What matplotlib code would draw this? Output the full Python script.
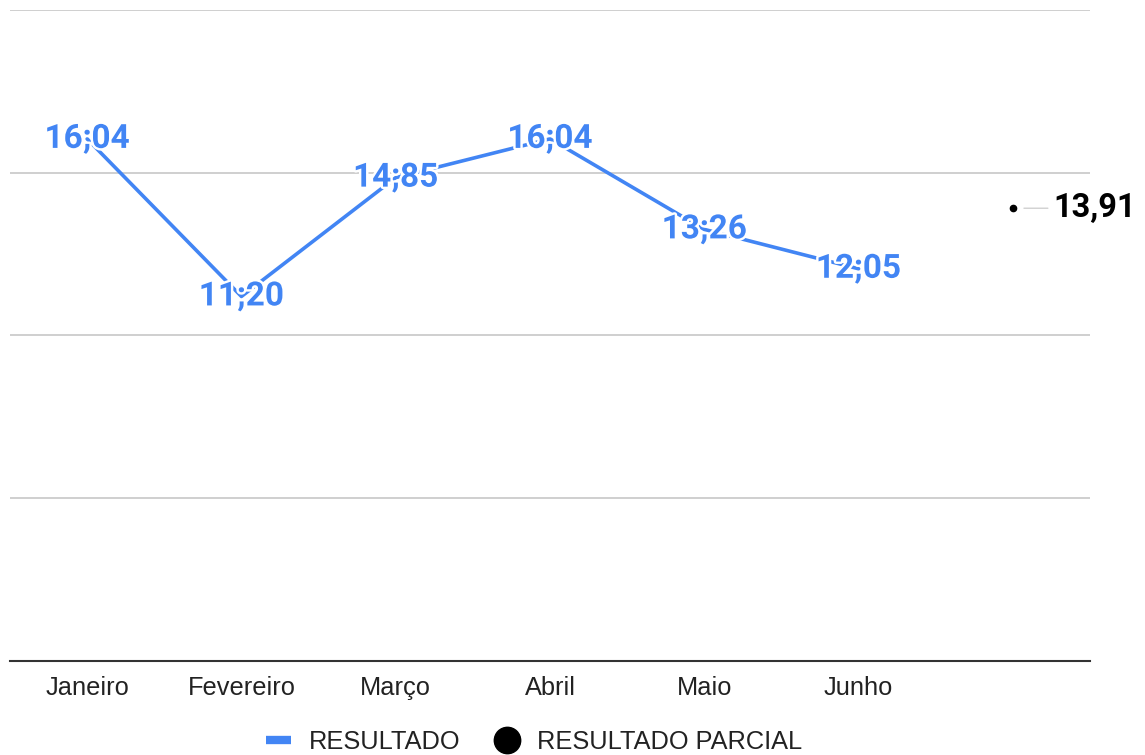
import matplotlib
matplotlib.use("Agg")
import matplotlib.pyplot as plt
import matplotlib.patheffects as pe
from matplotlib.lines import Line2D

categories = ["Janeiro", "Fevereiro", "Março", "Abril", "Maio", "Junho", ""]
resultado = [16.04, 11.20, 14.85, 16.04, 13.26, 12.05]
resultado_labels = ["16;04", "11;20", "14;85", "16;04", "13;26", "12;05"]
parcial_index = 6
parcial_value = 13.91
parcial_label = "13,91"

BLUE = "#4285F4"

fig = plt.figure(figsize=(11.45, 7.55), dpi=100)
ax = fig.add_axes([10/1145, 1 - 661/755, 1080/1145, (661-10)/755])

x = list(range(len(resultado)))
ax.plot(x, resultado, color=BLUE, lw=2.6, solid_capstyle="round", zorder=3)
for xi, v, lab in zip(x, resultado, resultado_labels):
    ax.text(xi, v, lab, ha="center", va="center", color=BLUE,
            fontsize=24, fontweight="bold", family="Roboto", zorder=5,
            path_effects=[pe.withStroke(linewidth=3.5, foreground="white")])

ax.plot([parcial_index], [parcial_value], "o", color="black", ms=4.5, zorder=4)
# leader line
ax.annotate("", xy=(parcial_index, parcial_value), xytext=(35, 0),
            textcoords="offset pixels", annotation_clip=False,
            arrowprops=dict(arrowstyle="-", color="#d0d0d0", lw=1,
                            shrinkA=0, shrinkB=8))
ax.annotate(parcial_label, (parcial_index, parcial_value), xytext=(41, 0),
            textcoords="offset pixels", ha="left", va="center",
            fontsize=23.5, fontweight="bold", family="Roboto", color="black",
            annotation_clip=False)

ax.set_xlim(-0.5, len(categories) - 0.5)
ax.set_ylim(0, 20)
ax.set_yticks([5, 10, 15, 20])
ax.set_yticklabels([])
ax.yaxis.grid(True, color="#cccccc", lw=1.3)
ax.set_axisbelow(True)
ax.tick_params(axis="y", length=0)
ax.set_xticks(range(len(categories)))
ax.set_xticklabels(categories, fontsize=18.3, family="Liberation Sans", color="#222222")
ax.tick_params(axis="x", length=0, pad=11)
for s in ["top", "left", "right"]:
    ax.spines[s].set_visible(False)
ax.spines["bottom"].set_color("#333333")
ax.spines["bottom"].set_linewidth(1.5)

handles = [Line2D([0], [0], color=BLUE, lw=6, solid_capstyle="butt"),
           Line2D([0], [0], marker="o", color="black", lw=0, ms=19)]
fig.legend(handles, ["RESULTADO", "RESULTADO PARCIAL"], loc="center",
           bbox_to_anchor=(534/1145, 1 - 742/755), ncol=2, frameon=False,
           prop={"family": "Liberation Sans", "size": 18.3},
           handlelength=1.0, handletextpad=0.68, columnspacing=1.35)
for t in fig.legends[0].get_texts():
    t.set_color("#222222")

fig.savefig("out.png", dpi=100)
